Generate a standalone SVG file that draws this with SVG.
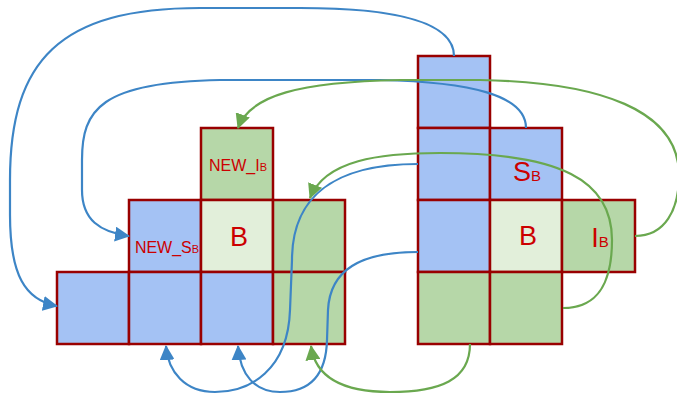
<svg xmlns="http://www.w3.org/2000/svg" width="677" height="394" viewBox="0 0 677 394">
<style>
.c{stroke:#990000;stroke-width:2.5}
.bl{fill:#a4c2f4}
.gr{fill:#b6d7a8}
.lt{fill:#e2efda}
.t{font-family:"Liberation Sans",Arial,sans-serif;fill:#cc0000;text-anchor:middle}
.cb{fill:none;stroke:#3d85c6;stroke-width:2.2}
.cg{fill:none;stroke:#6aa84f;stroke-width:2.2}
</style>
<defs>
<marker id="ab" markerUnits="userSpaceOnUse" markerWidth="15" markerHeight="15" refX="14" refY="7.5" orient="auto"><path d="M0,0 L15,7.5 L0,15 z" fill="#3d85c6"/></marker>
<marker id="ag" markerUnits="userSpaceOnUse" markerWidth="15" markerHeight="15" refX="14" refY="7.5" orient="auto"><path d="M0,0 L15,7.5 L0,15 z" fill="#6aa84f"/></marker>
</defs>
<g id="nodes">
<g id="L_newib"><rect class="c gr" x="201" y="128" width="72" height="72"/><text class="t" x="238" y="171" font-size="16">NEW_I<tspan font-size="11">B</tspan></text></g>
<g id="L_newsb"><rect class="c bl" x="129" y="200" width="72" height="72"/><text class="t" x="167" y="253" font-size="16">NEW_S<tspan font-size="11">B</tspan></text></g>
<g id="L_b"><rect class="c lt" x="201" y="200" width="72" height="72"/><text class="t" x="239" y="246" font-size="27">B</text></g>
<g id="L_g1"><rect class="c gr" x="273" y="200" width="72" height="72"/></g>
<g id="L_r3c0"><rect class="c bl" x="57" y="272" width="72" height="72"/></g>
<g id="L_r3c1"><rect class="c bl" x="129" y="272" width="72" height="72"/></g>
<g id="L_r3c2"><rect class="c bl" x="201" y="272" width="72" height="72"/></g>
<g id="L_r3c3"><rect class="c gr" x="273" y="272" width="72" height="72"/></g>
<g id="R_top"><rect class="c bl" x="418" y="56" width="72" height="72"/></g>
<g id="R_r2c0"><rect class="c bl" x="418" y="128" width="72" height="72"/></g>
<g id="R_sb"><rect class="c bl" x="490" y="128" width="72" height="72"/><text class="t" x="527" y="181" font-size="27">S<tspan font-size="15">B</tspan></text></g>
<g id="R_r3c0"><rect class="c bl" x="418" y="200" width="72" height="72"/></g>
<g id="R_b"><rect class="c lt" x="490" y="200" width="72" height="72"/><text class="t" x="528" y="245" font-size="27">B</text></g>
<g id="R_ib"><rect class="c gr" x="562" y="200" width="73" height="72"/><text class="t" x="600" y="247" font-size="27">I<tspan font-size="15">B</tspan></text></g>
<g id="R_r4c0"><rect class="c gr" x="418" y="272" width="72" height="72"/></g>
<g id="R_r4c1"><rect class="c gr" x="490" y="272" width="72" height="72"/></g>
</g>
<g id="connectors">
<path class="cb" marker-end="url(#ab)" d="M454,56 C454,20 390,8 300,8 L200,8 C60,8 10,60 10,180 L10,215 C10,275 25,300 57,306"/>
<path class="cb" marker-end="url(#ab)" d="M526,128 C526,95 470,82 380,80 L220,80 C100,82 82,110 82,160 L82,190 C82,220 100,232 129,236"/>
<path class="cg" marker-end="url(#ag)" d="M635,236 C665,236 679,210 679,175 C679,110 600,82 480,80 L400,80 C300,82 250,95 238,128"/>
<path class="cg" marker-end="url(#ag)" d="M563,308 C600,308 612,280 612,240 C612,180 560,153 440,153 C380,153 325,160 310,198"/>
<path class="cb" marker-end="url(#ab)" d="M418,164 C330,164 292,200 292,260 L290,310 C288,370 250,392 215,392 C185,392 168,372 166,346"/>
<path class="cb" marker-end="url(#ab)" d="M418,252 C360,252 330,270 328,310 L327,340 C326,380 305,392 280,392 C255,392 240,375 238,346"/>
<path class="cg" marker-end="url(#ag)" d="M470,344 C470,380 440,392 390,392 C340,392 315,375 311,346"/>
</g>
</svg>
